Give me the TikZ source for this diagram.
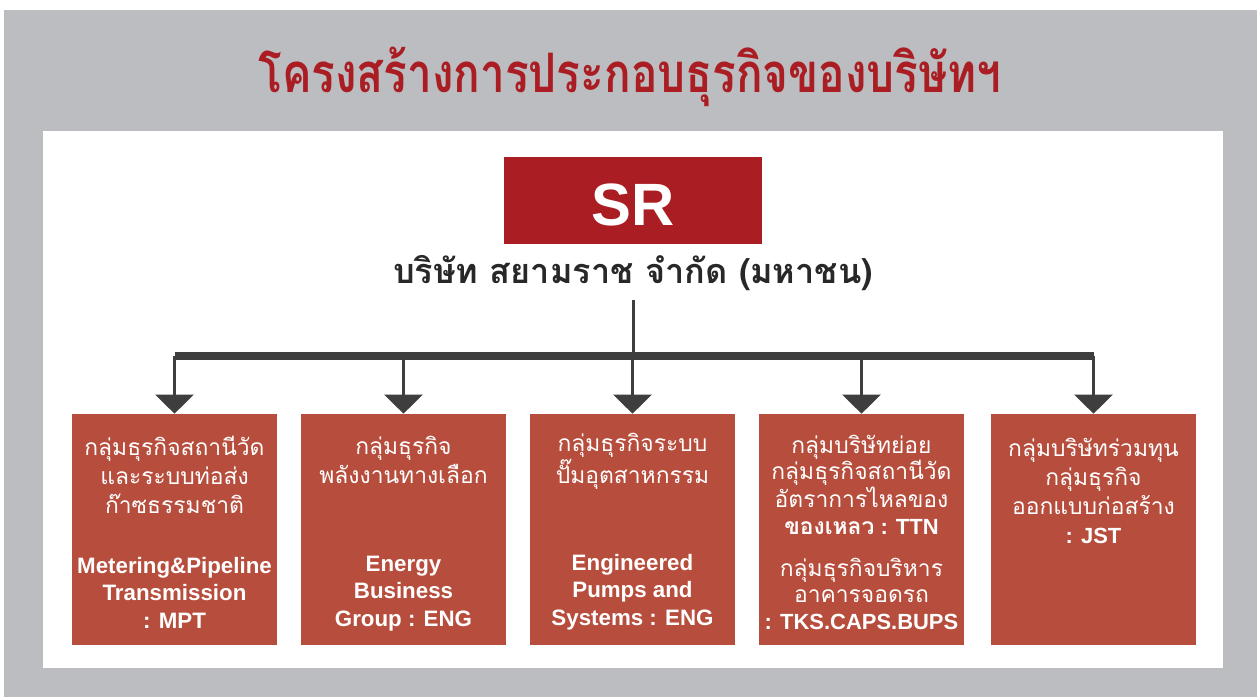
\documentclass[tikz,border=0pt]{standalone}
\usepackage{fontspec}
\setmainfont{Liberation Sans}
\newfontfamily\thaifont[Script=Thai]{Loma}
\newfontfamily\titlefont[Script=Thai,FakeStretch=0.81]{Loma}
\usetikzlibrary{arrows.meta,positioning}
\definecolor{srred}{RGB}{170,30,35}
\definecolor{boxred}{RGB}{183,77,60}
\definecolor{framegray}{RGB}{188,189,193}
\definecolor{linegray}{RGB}{62,62,62}
\definecolor{namegray}{RGB}{40,40,40}
\newcommand{\latb}[1]{{\rmfamily\bfseries\fontsize{12.5}{15}\selectfont #1}}
\tikzset{
  grpbox/.style={fill=boxred, minimum width=4.1cm, minimum height=4.62cm, inner sep=0pt},
  thtxt/.style={text=white, align=center, anchor=base, inner sep=0pt,
    font=\thaifont\fontsize{13}{16.5}\selectfont},
  entxt/.style={text=white, align=center, anchor=base, inner sep=0pt,
    font=\bfseries\fontsize{12.7}{15.4}\selectfont},
  drop/.style={linegray, line width=0.06cm, arrows={-Triangle[width=0.76cm,length=0.38cm]}},
}
\begin{document}
\begin{tikzpicture}[x=0.02cm,y=-0.02cm]
	% fond
	\useasboundingbox (0,0) rectangle (1259,697);
	\fill[white] (0,0) rectangle (1259,697);
	\fill[framegray] (4,10) rectangle (1257,697);
	\fill[white] (43,131) rectangle (1223,668);
	
	% titre
	\node[anchor=base, inner sep=0pt, text=srred,
		font=\titlefont\bfseries\fontsize{31}{36}\selectfont] (tname) at (630,92)
		{โครงสร้างการประกอบธุรกิจของบริษัทฯ};
	
	% SR
	\node[fill=srred, minimum width=5.16cm, minimum height=1.74cm] (srbox) at (633,200.5) {};
	\node[anchor=base, inner sep=0pt, text=white, font=\bfseries\fontsize{34}{40}\selectfont]
		(srlogo) at (srbox.center |- 0,225) {SR};
	\node[anchor=base, inner sep=0pt, text=namegray,
		font=\thaifont\bfseries\fontsize{19.5}{24}\selectfont] (srname) at (633,283)
		{บริษัท สยามราช จำกัด (มหาชน)};
	
	% groupes
	\node[grpbox] (b1) at (174.5,529.5) {};
	\node[grpbox] (b2) at (403.5,529.5) {};
	\node[grpbox] (b3) at (632.5,529.5) {};
	\node[grpbox] (b4) at (861.5,529.5) {};
	\node[grpbox] (b5) at (1093.5,529.5) {};
	
	% liaisons
	\coordinate (barc) at (633,356);
	\draw[linegray, line width=0.06cm] (srname.south |- 0,300) -- (barc);
	\draw[linegray, line width=0.16cm] (b1.north |- barc) -- (b5.north |- barc);
	\foreach \b in {b1,b2,b3,b4,b5}
		\draw[drop] (\b.north |- barc) -- (\b.north);
	
	% textes (ancre = ligne de base de la derniere ligne)
	\node[thtxt] (t1a) at (b1.center |- 0,513) {กลุ่มธุรกิจสถานีวัด\\และระบบท่อส่ง\\ก๊าซธรรมชาติ};
	\node[entxt] (t1b) at (b1.center |- 0,628) {Metering\&Pipeline\\Transmission\\: MPT};
	\node[thtxt] (t2a) at (b2.center |- 0,483) {กลุ่มธุรกิจ\\พลังงานทางเลือก};
	\node[entxt] (t2b) at (b2.center |- 0,626) {Energy\\Business\\Group : ENG};
	\node[thtxt] (t3a) at (b3.center |- 0,483) {กลุ่มธุรกิจระบบ\\ปั๊มอุตสาหกรรม};
	\node[entxt] (t3b) at (b3.center |- 0,625) {Engineered\\Pumps and\\Systems : ENG};
	\node[thtxt, font=\thaifont\fontsize{13}{15}\selectfont] (t4a) at (b4.center |- 0,534)
		{กลุ่มบริษัทย่อย\\กลุ่มธุรกิจสถานีวัด\\อัตราการไหลของ\\{\bfseries ของเหลว}\latb{ : TTN}};
	\node[thtxt, font=\thaifont\fontsize{13}{15}\selectfont] (t4b) at (b4.center |- 0,629)
		{กลุ่มธุรกิจบริหาร\\อาคารจอดรถ\\\latb{: TKS.CAPS.BUPS}};
	\node[thtxt] (t5a) at (b5.center |- 0,543)
		{กลุ่มบริษัทร่วมทุน\\กลุ่มธุรกิจ\\ออกแบบก่อสร้าง\\\latb{: JST}};
\end{tikzpicture}
\end{document}
